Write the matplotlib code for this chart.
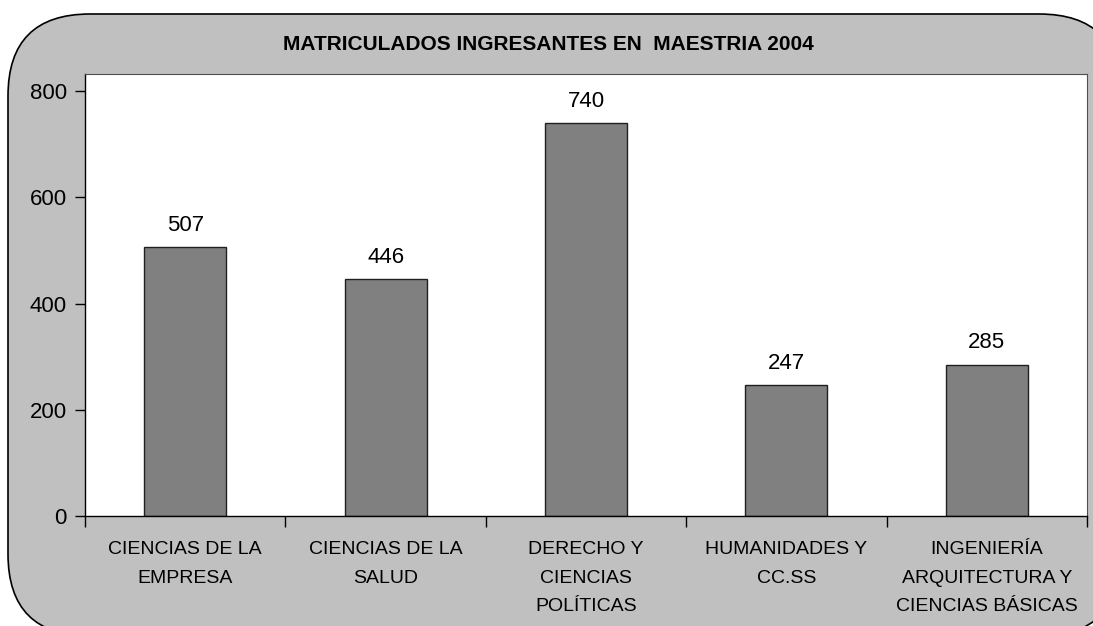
import numpy as np
import matplotlib.pyplot as plt
from matplotlib.patches import FancyBboxPatch

plt.rcParams['font.family'] = ['Liberation Sans', 'DejaVu Sans']

# Data
categories = ["CIENCIAS DE LA\nEMPRESA", "CIENCIAS DE LA\nSALUD",
              "DERECHO Y\nCIENCIAS\nPOLÍTICAS", "HUMANIDADES Y\nCC.SS",
              "INGENIERÍA\nARQUITECTURA Y\nCIENCIAS BÁSICAS"]
values = [507, 446, 740, 247, 285]
yticks = [0, 200, 400, 600, 800]

W, H = 1093, 626
fig = plt.figure(figsize=(W / 100, H / 100), dpi=100)
fig.patch.set_facecolor('white')

# rounded grey frame behind everything
frame = FancyBboxPatch((8 / W, -10 / H), (W + 20) / W, (H - 14 + 10) / H,
                       boxstyle="round,pad=0,rounding_size=0.075",
                       transform=fig.transFigure, facecolor='#c0c0c0',
                       edgecolor='black', linewidth=1.2,
                       mutation_aspect=W / H, zorder=-1)
fig.patches.append(frame)

ax = fig.add_axes([85 / W, (H - 516) / H, (1087 - 85) / W, (516 - 74) / H])
ax.set_facecolor('white')

x = np.arange(len(values))
bars = ax.bar(x, values, width=0.41, color='#808080', edgecolor='#202020',
              linewidth=1.0, zorder=2)
ax.bar_label(bars, labels=[str(v) for v in values], padding=8, fontsize=16)

ax.set_xlim(-0.5, len(values) - 0.5)
ax.set_ylim(0, 832)
ax.set_yticks(yticks)
ax.set_yticklabels([str(v) for v in yticks], fontsize=16)

ax.set_xticks(x)
ax.set_xticklabels(categories, fontsize=14, linespacing=1.9)
ax.tick_params(axis='x', length=0, pad=18)
ax.set_xticks(np.arange(len(values) + 1) - 0.5, minor=True)
ax.tick_params(axis='x', which='minor', length=8, direction='out', width=1)
ax.tick_params(axis='y', length=7, direction='out', width=1, pad=6)

for side in ['top', 'right']:
    ax.spines[side].set_color('#505050')
    ax.spines[side].set_linewidth(0.8)
for side in ['left', 'bottom']:
    ax.spines[side].set_color('black')
    ax.spines[side].set_linewidth(1.0)

fig.text(548 / W, 1 - 45 / H, "MATRICULADOS INGRESANTES EN  MAESTRIA 2004",
         ha='center', va='center', fontsize=15, fontweight='bold')

fig.savefig('out.png', dpi=100)
